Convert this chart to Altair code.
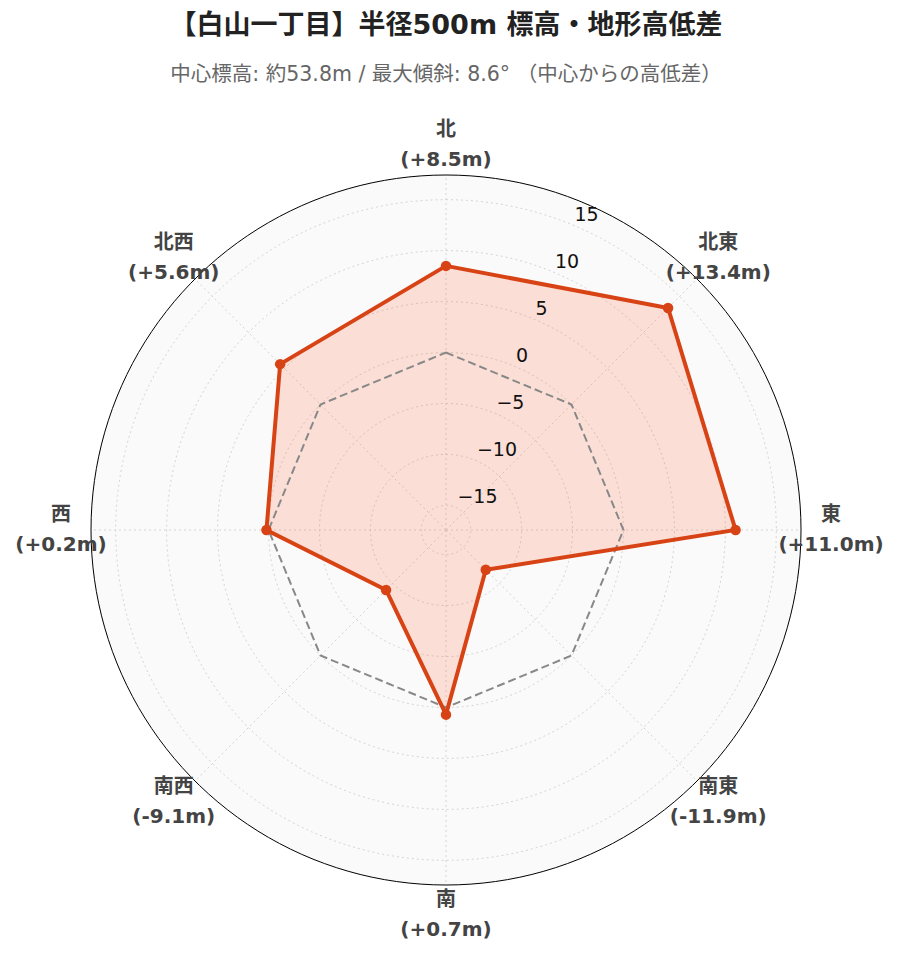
import altair as alt
import numpy as np
import pandas as pd

# ---- data ----
directions = ["北", "北東", "東", "南東", "南", "南西", "西", "北西"]
values = [8.5, 13.4, 11.0, -11.9, 0.7, -9.1, 0.2, 5.6]
radial_ticks = [-15, -10, -5, 0, 5, 10, 15]
title_text = "【白山一丁目】半径500m 標高・地形高低差"
subtitle_text = "中心標高: 約53.8m / 最大傾斜: 8.6° （中心からの高低差）"

# ---- geometry (polar -> cartesian via the data) ----
rmax = max(abs(v) for v in values) * 1.3      # radial range [-rmax, rmax]
R = 2 * rmax                                   # outer radius in data units
angles = [i * 360 / len(directions) for i in range(len(directions))]
TICK_ANGLE = 22.5
LABEL_R = R * 385 / 355

def xy(r, ang):
    a = np.radians(ang)
    return r * np.sin(a), r * np.cos(a)

# rings
ring_rows = []
for t in radial_ticks + ["outer"]:
    r = R if t == "outer" else t + rmax
    for k, ang in enumerate(np.arange(0, 361, 2)):
        x, y = xy(r, ang)
        ring_rows.append({"ring": str(t), "k": k, "x": x, "y": y})
rings = pd.DataFrame(ring_rows)
outer = rings[rings["ring"] == "outer"]
inner_rings = rings[rings["ring"] != "outer"]

# spokes
spk = []
for d, ang in zip(directions, angles):
    x2, y2 = xy(R, ang)
    spk.append({"dir": d, "x": 0.0, "y": 0.0, "x2": x2, "y2": y2})
spokes = pd.DataFrame(spk)

# data polygon and zero polygon
poly, zero = [], []
closed = list(zip(directions, values, angles)) + [(directions[0], values[0], angles[0])]
for k, (d, v, ang) in enumerate(closed):
    x, y = xy(v + rmax, ang)
    poly.append({"k": k, "dir": d, "value": v, "x": x, "y": y})
    zx, zy = xy(rmax, ang)
    zero.append({"k": k, "x": zx, "y": zy})
poly = pd.DataFrame(poly)
zero = pd.DataFrame(zero)
pts = poly.iloc[:-1]

# radial tick labels
tl = []
for t in radial_ticks:
    x, y = xy(t + rmax, TICK_ANGLE)
    lab = str(t) if t >= 0 else "\u2212" + str(abs(t))
    tl.append({"label": lab, "x": x, "y": y})
tick_labels = pd.DataFrame(tl)

# direction labels
dl = []
for d, v, ang in zip(directions, values, angles):
    x, y = xy(LABEL_R, ang)
    dl.append({"label": f"{d}\n({v:+.1f}m)", "x": x, "y": y})
dir_labels = pd.DataFrame(dl)

# ---- chart ----
FONT = "DejaVu Sans, Noto Sans CJK JP, sans-serif"
xs = alt.Scale(domain=[-R, R], nice=False, zero=False)
ys = alt.Scale(domain=[-R, R], nice=False, zero=False)
X = alt.X("x:Q", scale=xs, axis=None)
Y = alt.Y("y:Q", scale=ys, axis=None)

outer_fill = alt.Chart(outer).mark_line(
    fill="#fafafa", stroke="#000000", strokeWidth=1
).encode(x=X, y=Y, order="k:Q")

ring_lines = alt.Chart(inner_rings).mark_line(
    stroke="#d5d5d5", strokeWidth=1, strokeDash=[2, 3]
).encode(x=X, y=Y, detail="ring:N", order="k:Q")

spoke_lines = alt.Chart(spokes).mark_rule(
    stroke="#d5d5d5", strokeWidth=1, strokeDash=[2, 3]
).encode(x=X, y=Y, x2="x2:Q", y2="y2:Q")

data_fill = alt.Chart(poly).mark_line(
    fill="#ff5722", fillOpacity=0.17, strokeOpacity=0
).encode(x=X, y=Y, order="k:Q")

zero_line = alt.Chart(zero).mark_line(
    stroke="#888888", strokeWidth=2, strokeDash=[8, 4]
).encode(x=X, y=Y, order="k:Q")

data_line = alt.Chart(poly).mark_line(
    stroke="#d84315", strokeWidth=4, strokeJoin="miter"
).encode(x=X, y=Y, order="k:Q")

data_pts = alt.Chart(pts).mark_circle(
    size=110, color="#d84315", opacity=1
).encode(x=X, y=Y)

tick_text = alt.Chart(tick_labels).mark_text(
    align="left", baseline="middle", dx=2, dy=-10,
    font=FONT, fontSize=19, color="#111111"
).encode(x=X, y=Y, text="label:N")

dir_text = alt.Chart(dir_labels).mark_text(
    align="center", baseline="middle", lineBreak="\n", lineHeight=30, dy=-15,
    font=FONT, fontSize=20, fontWeight="bold", color="#444444"
).encode(x=X, y=Y, text="label:N")

chart = alt.layer(
    outer_fill, ring_lines, spoke_lines, data_fill, zero_line,
    data_line, data_pts, tick_text, dir_text
).properties(
    width=710, height=710,
    background="white",
    title=alt.TitleParams(
        text=title_text, subtitle=subtitle_text,
        font=FONT, fontSize=27, fontWeight="bold", color="#222222",
        subtitleFont=FONT, subtitleFontSize=20.5, subtitleColor="#666666",
        subtitlePadding=25, anchor="middle", offset=34,
    ),
    autosize=alt.AutoSizeParams(type="none"),
    padding={"left": 83, "top": 167, "right": 91, "bottom": 77},
).configure_view(strokeWidth=0, stroke="transparent")

chart.save("out.html", embed_options={"renderer": "svg", "actions": False})
